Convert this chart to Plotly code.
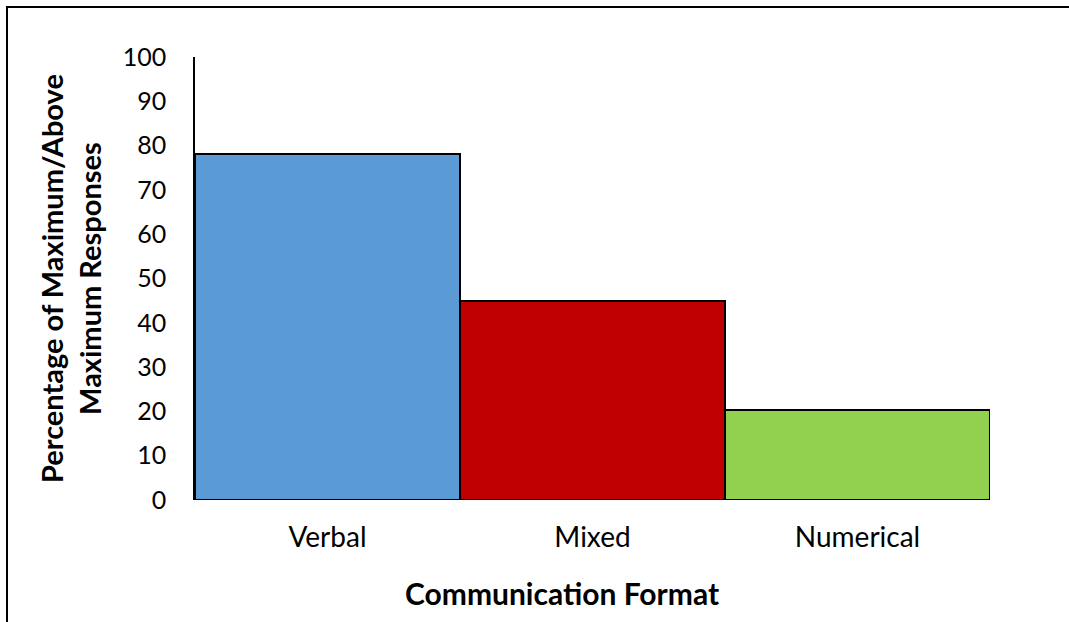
import plotly.graph_objects as go

# Share of maximum / above-maximum responses by communication format
formats = ["Verbal", "Mixed", "Numerical"]
percentages = [78.0, 45.0, 20.3]
bar_colors = ["#5B9BD5", "#C00000", "#92D050"]
y_ticks = [0, 10, 20, 30, 40, 50, 60, 70, 80, 90, 100]

FONT = "Lato"

fig = go.Figure(
    go.Bar(
        x=formats,
        y=percentages,
        marker=dict(color=bar_colors, line=dict(color="black", width=2)),
        width=1.0,
        showlegend=False,
    )
)

W, H = 1069, 622
L, R, T, B = 195, 79, 57, 122
pw, ph = W - L - R, H - T - B


def px_x(x):
    return (x - L) / pw


def px_y(y):
    return (H - B - y) / ph


fig.update_layout(
    width=W,
    height=H,
    margin=dict(l=L, r=R, t=T, b=B),
    paper_bgcolor="white",
    plot_bgcolor="white",
    bargap=0,
    font=dict(family=FONT, size=24, color="black"),
    xaxis=dict(
        range=[-0.5, 2.5],
        showgrid=False,
        zeroline=False,
        showline=False,
        ticks="",
        ticklabelstandoff=18,
        tickfont=dict(family=FONT, size=28),
    ),
    yaxis=dict(
        range=[0, 100],
        tickvals=y_ticks,
        showgrid=False,
        zeroline=False,
        showline=True,
        linecolor="black",
        linewidth=1.5,
        ticks="",
        ticklabelstandoff=22,
        tickfont=dict(family=FONT, size=25),
    ),
    annotations=[
        dict(
            text="<b>Communication Format</b>",
            xref="paper", yref="paper",
            x=px_x(562), y=px_y(593),
            xanchor="center", yanchor="middle",
            showarrow=False,
            font=dict(family=FONT, size=30),
        ),
        dict(
            text="<b>Percentage of Maximum/Above<br>Maximum Responses</b>",
            xref="paper", yref="paper",
            x=px_x(70), y=px_y(279),
            xanchor="center", yanchor="middle",
            textangle=-90,
            showarrow=False,
            font=dict(family=FONT, size=29),
        ),
    ],
    shapes=[
        dict(
            type="rect",
            xref="paper", yref="paper",
            x0=px_x(7), x1=px_x(1080),
            y0=px_y(640), y1=px_y(7),
            line=dict(color="black", width=2),
            fillcolor="rgba(0,0,0,0)",
            layer="below",
        )
    ],
)

fig.write_html("out.html")
